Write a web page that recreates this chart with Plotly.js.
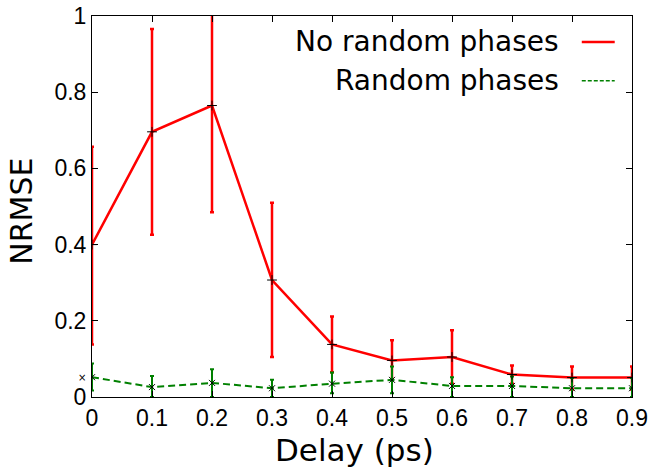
<!DOCTYPE html>
<html><head><meta charset="utf-8">
<script src="https://cdn.plot.ly/plotly-3.0.1.min.js"></script>
<style>body{margin:0;padding:0;background:#fff}#plot{width:650px;height:470px}</style>
</head><body><div id="plot"></div>
<script>
const delays = [0, 0.1, 0.2, 0.3, 0.4, 0.5, 0.6, 0.7, 0.8, 0.9];
const noRandom = [0.40, 0.696, 0.765, 0.307, 0.138, 0.096, 0.105, 0.059, 0.051, 0.051];
const noRandomHigh = [0.657, 0.966, 1.02, 0.51, 0.211, 0.149, 0.175, 0.083, 0.080, 0.080];
const noRandomLow = [0.138, 0.426, 0.485, 0.105, 0.065, 0.045, 0.035, 0.035, 0.020, 0.020];
const randomPh = [0.052, 0.026, 0.037, 0.023, 0.035, 0.045, 0.029, 0.029, 0.023, 0.023];
const randomHigh = [0.088, 0.055, 0.073, 0.045, 0.064, 0.080, 0.052, 0.054, 0.050, 0.050];
const randomLow = [0.017, 0.0, 0.0, 0.0, 0.010, 0.010, 0.0, 0.0, 0.0, 0.0];
const xTicks = [0, 0.1, 0.2, 0.3, 0.4, 0.5, 0.6, 0.7, 0.8, 0.9];
const xTickText = ['0', '0.1', '0.2', '0.3', '0.4', '0.5', '0.6', '0.7', '0.8', '0.9'];
const yTicks = [0, 0.2, 0.4, 0.6, 0.8, 1];
const yTickText = ['0', '0.2', '0.4', '0.6', '0.8', '1'];
const names = ['No random phases', 'Random phases'];
const xTitle = 'Delay (ps)';
const yTitle = 'NRMSE';

const up = (c, h) => h.map((v, i) => v - c[i]);
const dn = (c, l) => l.map((v, i) => c[i] - v);

const traces = [
  {x: delays, y: noRandom, type: 'scatter', mode: 'lines', name: names[0],
   line: {color: '#ff0000', width: 2.5},
   error_y: {type: 'data', symmetric: false, array: up(noRandom, noRandomHigh), arrayminus: dn(noRandom, noRandomLow),
             color: '#ff0000', thickness: 2.5, width: 2}},
  {x: delays, y: randomPh, type: 'scatter', mode: 'lines', name: names[1],
   line: {color: '#008000', width: 2, dash: '7px,4px'},
   error_y: {type: 'data', symmetric: false, array: up(randomPh, randomHigh), arrayminus: dn(randomPh, randomLow),
             color: '#008000', thickness: 2, width: 2}},
  {x: delays, y: noRandom, type: 'scatter', mode: 'markers', showlegend: false, hoverinfo: 'skip',
   marker: {symbol: 'cross-thin', size: 7, line: {color: '#000', width: 1}}},
  {x: delays, y: randomPh, type: 'scatter', mode: 'markers', showlegend: false, hoverinfo: 'skip',
   marker: {symbol: 'x-thin', size: 6, line: {color: '#000', width: 1}}}
];

const font = 'DejaVu Sans, sans-serif';
const tickFont = 'Liberation Sans, Arial, sans-serif';
const layout = {
  width: 650, height: 470,
  margin: {l: 92, r: 18, t: 16, b: 73},
  paper_bgcolor: '#fff', plot_bgcolor: '#fff',
  showlegend: false,
  font: {family: font, color: '#000'},
  xaxis: {range: [0, 0.9], tickvals: xTicks, ticktext: xTickText, ticks: 'inside', ticklen: 6,
          tickcolor: '#000', showline: true, linecolor: '#000', linewidth: 1, mirror: 'ticks',
          showgrid: false, zeroline: false, tickfont: {size: 23, family: tickFont}},
  yaxis: {range: [0, 1], tickvals: yTicks, ticktext: yTickText, ticks: 'inside', ticklen: 6,
          tickcolor: '#000', showline: true, linecolor: '#000', linewidth: 1, mirror: 'ticks',
          showgrid: false, zeroline: false, tickfont: {size: 23, family: tickFont}},
  annotations: [
    {xref: 'paper', yref: 'paper', x: 0.487, y: -0.14, xanchor: 'center', yanchor: 'middle',
     text: xTitle, showarrow: false, font: {size: 31, family: font}},
    {xref: 'paper', yref: 'paper', x: -0.131, y: 0.487, xanchor: 'center', yanchor: 'middle', textangle: -90,
     text: yTitle, showarrow: false, font: {size: 30, family: font}},
    {xref: 'paper', yref: 'paper', x: 0.868, y: 0.933, xanchor: 'right', yanchor: 'middle',
     text: names[0], showarrow: false, font: {size: 28, family: font}},
    {xref: 'paper', yref: 'paper', x: 0.868, y: 0.83, xanchor: 'right', yanchor: 'middle',
     text: names[1], showarrow: false, font: {size: 28, family: font}},
    {xref: 'paper', yref: 'y', x: -0.0185, y: randomPh[0], xanchor: 'center', yanchor: 'middle',
     text: '×', showarrow: false, font: {size: 10, family: font}}
  ],
  shapes: [
    {type: 'line', xref: 'paper', yref: 'paper', x0: 0.907, x1: 0.968, y0: 0.932, y1: 0.932,
     line: {color: '#ff0000', width: 2.5}},
    {type: 'line', xref: 'paper', yref: 'paper', x0: 0.907, x1: 0.968, y0: 0.83, y1: 0.83,
     line: {color: '#008000', width: 1.5, dash: '4px,2px'}}
  ]
};
Plotly.newPlot('plot', traces, layout, {displayModeBar: false, staticPlot: true});
</script></body></html>
